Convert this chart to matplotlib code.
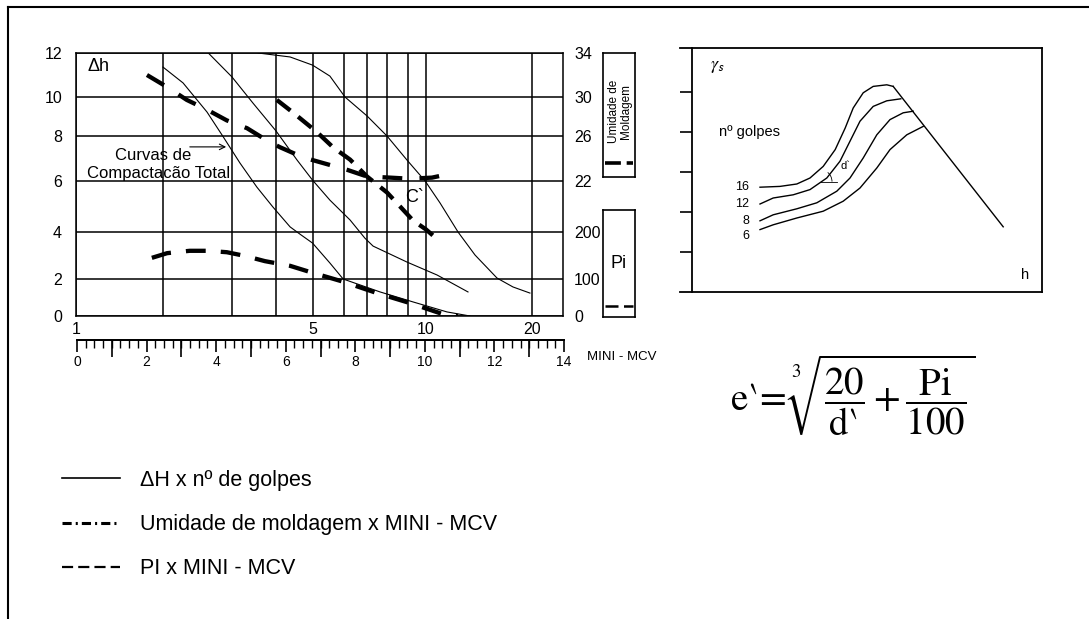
import numpy as np
import matplotlib
matplotlib.use("Agg")
import matplotlib.pyplot as plt
from matplotlib.lines import Line2D
from matplotlib.patches import Arc

plt.rcParams['font.family'] = ['Liberation Sans', 'DejaVu Sans']
plt.rcParams['mathtext.fontset'] = 'stix'

# ---------------------------------------------------------------------------
# Ruling of the printed nomogram (spacing of the drawn grid lines)
golpes_ruling = [1, 2, 3, 4, 5, 6, 7, 8, 9, 10, 20, 24.5]
golpes_ruling_pos = [0, 87, 156, 200, 236.5, 268, 291, 311, 332, 350, 456, 487]
dh_ruling = [0, 2, 4, 6, 8, 10, 12]
dh_ruling_pos = [0, 37, 84, 135, 180, 219, 263]

# Delta h x number of blows (compaction curves)
golpes_c1 = [2.0, 2.25, 2.59, 2.85, 3.16, 3.53, 3.92, 4.36, 4.63, 5.0, 5.53, 5.97, 7.64, 9.27, 11.47, 13.33]
dh_c1 = [11.36, 10.64, 9.23, 7.96, 6.8, 5.76, 4.98, 4.2, 3.91, 3.53, 2.68, 2.0, 1.30, 0.76, 0.22, 0.0]
golpes_c2 = [2.61, 3.0, 3.44, 4.0, 4.55, 5.0, 5.53, 6.25, 6.9, 7.29, 8.95, 10.75, 13.16]
dh_c2 = [12.0, 10.91, 9.69, 8.26, 6.93, 6.04, 5.25, 4.47, 3.74, 3.40, 2.72, 2.17, 1.30]
golpes_c3 = [3.56, 4.36, 5.0, 5.53, 6.04, 7.0, 8.0, 8.95, 9.95, 10.96, 12.33, 13.78, 15.91, 17.66, 19.73]
dh_c3 = [12.0, 11.82, 11.45, 10.95, 10.0, 9.03, 8.0, 6.93, 6.0, 5.14, 4.0, 3.02, 2.04, 1.57, 1.24]

# Moulding moisture x MINI-MCV
umid_a_golpes = [1.76, 2.05, 2.30, 2.59, 2.91, 3.31, 3.77, 4.10, 4.72, 5.31, 6.12, 7.0, 8.14, 9.1, 10.4, 11.93]
umid_a = [32.0, 30.9, 29.7, 28.7, 27.6, 26.8, 25.6, 25.0, 24.1, 23.6, 23.0, 22.4, 22.3, 22.2, 22.3, 22.7]
umid_b_golpes = [4.02, 4.44, 5.13, 5.63, 6.25, 7.0, 8.0, 8.61, 9.27, 10.0, 10.75]
umid_b = [29.7, 28.4, 26.4, 25.0, 23.9, 22.4, 21.1, 20.0, 18.9, 18.2, 17.4]

# Pi x MINI-MCV
pi_golpes = [1.83, 2.05, 2.34, 2.59, 2.91, 3.27, 3.72, 4.36, 4.92, 6.0, 7.48, 9.1, 11.17, 12.33]
pi_vals = [145, 155, 160, 160, 157, 149, 138, 128, 115, 92, 62, 35, 5, 0]

# Axis ticks
golpes_labels = [1, 5, 10, 20]
golpes_grid = [2, 3, 4, 6, 7, 8, 9]
dh_ticks = [0, 2, 4, 6, 8, 10, 12]
umid_ticks = [22, 26, 30, 34]
pi_ticks = [0, 100, 200]
mcv_labels = [0, 2, 4, 6, 8, 10, 12, 14]

# Compaction curves: dry density x moisture (schematic panel)
blows = ['16', '12', '8', '6']
curve16_h = [1.70, 2.20, 2.62, 2.95, 3.28, 3.58, 3.83, 4.03, 4.28, 4.53, 4.87, 5.03]
curve16_g = [2.62, 2.64, 2.70, 2.85, 3.14, 3.56, 4.10, 4.60, 4.98, 5.14, 5.18, 5.14]
curve12_h = [1.70, 2.03, 2.53, 2.95, 3.37, 3.70, 3.95, 4.20, 4.53, 4.87, 5.22]
curve12_g = [2.20, 2.35, 2.43, 2.56, 2.85, 3.27, 3.77, 4.27, 4.64, 4.78, 4.83]
curve8_h = [1.70, 2.03, 2.62, 3.12, 3.62, 3.95, 4.28, 4.62, 4.95, 5.28, 5.53]
curve8_g = [1.78, 1.93, 2.08, 2.23, 2.52, 2.85, 3.35, 3.93, 4.31, 4.48, 4.52]
curve6_h = [1.70, 2.03, 2.62, 3.28, 3.78, 4.20, 4.62, 4.95, 5.37, 5.78]
curve6_g = [1.56, 1.68, 1.85, 2.02, 2.27, 2.60, 3.10, 3.56, 3.93, 4.14]
saturation_h = [5.03, 7.78]
saturation_g = [5.14, 1.63]


# ---------------------------------------------------------------------------
def golpes_fwd(v):
    v = np.clip(np.asarray(v, float), 1e-3, None)
    return np.interp(np.log10(v), np.log10(golpes_ruling), golpes_ruling_pos)


def golpes_inv(p):
    return 10 ** np.interp(np.asarray(p, float), golpes_ruling_pos, np.log10(golpes_ruling))


def dh_fwd(v):
    return np.interp(np.asarray(v, float), dh_ruling, dh_ruling_pos)


def dh_inv(p):
    return np.interp(np.asarray(p, float), dh_ruling_pos, dh_ruling)


def umid_fwd(u):
    return dh_fwd((np.asarray(u, float) - 10.0) / 2.0)


def umid_inv(p):
    return 10.0 + 2.0 * dh_inv(p)


def pi_fwd(v):
    return dh_fwd(np.asarray(v, float) / 50.0)


def pi_inv(p):
    return 50.0 * dh_inv(p)


W, H = 1089, 619
fig = plt.figure(figsize=(W / 100, H / 100), dpi=100)


def fx(px):
    return px / W


def fy(py):
    return 1 - py / H


LW_GRID = 1.1
TICK_FS = 11.5

# ---------------- main nomogram ----------------
ax = fig.add_axes([fx(76), fy(316), fx(563) - fx(76), fy(53) - fy(316)])
ax.set_xscale('function', functions=(golpes_fwd, golpes_inv))
ax.set_yscale('function', functions=(dh_fwd, dh_inv))
ax.set_xlim(1, 24.5)
ax.set_ylim(0, 12)
ax.set_xticks(golpes_labels)
ax.set_xticklabels([str(v) for v in golpes_labels])
ax.set_xticks(golpes_grid, minor=True)
ax.set_xticklabels([], minor=True)
ax.set_yticks(dh_ticks)
ax.set_yticklabels([str(v) for v in dh_ticks])
ax.tick_params(axis='both', which='both', length=0, labelsize=TICK_FS)
ax.tick_params(axis='y', pad=10)
ax.tick_params(axis='x', pad=4)
ax.grid(True, which='both', color='black', lw=LW_GRID)
ax.set_axisbelow(True)
for s in ax.spines.values():
    s.set_linewidth(LW_GRID)

for gx, gy in [(golpes_c1, dh_c1), (golpes_c2, dh_c2), (golpes_c3, dh_c3)]:
    ax.plot(gx, gy, color='black', lw=0.8, zorder=3)

ax.text(0.024, 0.947, 'Δh', transform=ax.transAxes, fontsize=13,
        ha='left', va='center')
ax.text(0.158, 0.612, 'Curvas de', transform=ax.transAxes, fontsize=12,
        ha='center', va='center')
ax.text(0.169, 0.543, 'Compactacão Total', transform=ax.transAxes, fontsize=12,
        ha='center', va='center')
ax.annotate('', xy=(0.314, 0.643), xytext=(0.228, 0.643),
            xycoords='axes fraction', textcoords='axes fraction',
            arrowprops=dict(arrowstyle='->', color='black', lw=0.8))
ax.text(0.696, 0.452, 'C`', transform=ax.transAxes, fontsize=13,
        ha='center', va='center')

# moisture scale (upper right)
ax_u = ax.twinx()
ax_u.set_yscale('function', functions=(umid_fwd, umid_inv))
ax_u.set_ylim(10, 34)
ax_u.set_yticks(umid_ticks)
ax_u.set_yticklabels([str(v) for v in umid_ticks])
ax_u.tick_params(axis='y', length=0, pad=8, labelsize=TICK_FS)
for s in ax_u.spines.values():
    s.set_visible(False)
ax_u.plot(umid_a_golpes, umid_a, color='black', lw=3.1, dashes=(4.6, 4.0),
          solid_capstyle='butt', dash_capstyle='butt')
ax_u.plot(umid_b_golpes, umid_b, color='black', lw=3.1, dashes=(4.0, 2.3),
          solid_capstyle='butt', dash_capstyle='butt')

# plasticity index scale (lower right)
ax_p = ax.twinx()
ax_p.set_yscale('function', functions=(pi_fwd, pi_inv))
ax_p.set_ylim(0, 600)
ax_p.set_yticks(pi_ticks)
ax_p.set_yticklabels([str(v) for v in pi_ticks])
ax_p.tick_params(axis='y', length=0, pad=8, labelsize=TICK_FS)
for s in ax_p.spines.values():
    s.set_visible(False)
ax_p.plot(pi_golpes, pi_vals, color='black', lw=3.1, dashes=(4.6, 3.5),
          dash_capstyle='butt')

# ---------------- MINI-MCV ruler ----------------
ax_r = fig.add_axes([fx(77), fy(340), fx(564) - fx(77), 0.001])
ax_r.set_xlim(0, 14)
ax_r.set_yticks([])
for side in ['left', 'right', 'top']:
    ax_r.spines[side].set_visible(False)
ax_r.spines['bottom'].set_linewidth(1.3)
ax_r.set_xticks(mcv_labels)
ax_r.set_xticklabels([str(v) for v in mcv_labels])
ax_r.set_xticks(np.arange(0, 14.01, 0.25), minor=True)
ax_r.tick_params(axis='x', which='major', length=8.6, width=1.2, labelsize=10, pad=2.5)
ax_r.tick_params(axis='x', which='minor', length=5.8, width=1.0)
ax_r.patch.set_visible(False)
sec = ax_r.secondary_xaxis('bottom')
sec.set_xticks([1, 3, 5, 7, 9, 11, 13])
sec.set_xticklabels([])
sec.tick_params(axis='x', length=12, width=1.2)
sec.spines['bottom'].set_linewidth(1.3)
fig.text(fx(587), fy(357), 'MINI - MCV', fontsize=9.5, ha='left', va='center')

# ---------------- scale boxes ----------------
ax_ub = fig.add_axes([fx(603), fy(177), fx(635) - fx(603), fy(53) - fy(177)])
ax_ub.set_xticks([]); ax_ub.set_yticks([])
ax_ub.set_xlim(0, 1); ax_ub.set_ylim(0, 1)
for s in ax_ub.spines.values():
    s.set_linewidth(1.2)
ax_ub.text(0.52, 0.53, 'Umidade de\nMoldagem', rotation=90, fontsize=8.5,
           ha='center', va='center', linespacing=1.0)
ax_ub.plot([0.06, 0.94], [0.113, 0.113], color='black', lw=2.6, dashes=(4.4, 1.6),
           dash_capstyle='butt')

ax_pb = fig.add_axes([fx(603), fy(317), fx(635) - fx(603), fy(210) - fy(317)])
ax_pb.set_xticks([]); ax_pb.set_yticks([])
ax_pb.set_xlim(0, 1); ax_pb.set_ylim(0, 1)
for s in ax_pb.spines.values():
    s.set_linewidth(1.2)
ax_pb.text(0.5, 0.5, 'Pi', fontsize=13, ha='center', va='center')
ax_pb.plot([0.06, 0.94], [0.106, 0.106], color='black', lw=1.8, dashes=(5.2, 2.2),
           dash_capstyle='butt')

# ---------------- compaction panel ----------------
ax_s = fig.add_axes([fx(692), fy(292), fx(1042) - fx(692), fy(48) - fy(292)])
ax_s.set_xlim(0, 8.75)
ax_s.set_ylim(0, 6.1)
ax_s.set_xticks([])
ax_s.set_yticks([1, 2, 3, 4, 5])
ax_s.set_yticklabels([])
ax_s.tick_params(axis='y', direction='out', length=8.6, width=1.2)
for s in ax_s.spines.values():
    s.set_linewidth(1.3)
ax_s.spines['top'].set_bounds(-0.3, 8.75)
ax_s.spines['bottom'].set_bounds(-0.3, 8.75)

for ch, cg in [(curve16_h, curve16_g), (curve12_h, curve12_g),
               (curve8_h, curve8_g), (curve6_h, curve6_g)]:
    ax_s.plot(ch, cg, color='black', lw=1.0, solid_joinstyle='round')
ax_s.plot(saturation_h, saturation_g, color='black', lw=1.0)

for lab, g0 in zip(blows, [curve16_g[0], curve12_g[0], curve8_g[0], curve6_g[0] - 0.15]):
    ax_s.text(1.43, g0, lab, fontsize=9, ha='right', va='center')
ax_s.text(0.45, 5.63, r'$\gamma_{\mathsf{s}}$', fontsize=13, ha='left', va='center')
ax_s.text(0.68, 4.0, 'nº golpes', fontsize=10.5, ha='left', va='center')
ax_s.text(8.33, 0.43, 'h', fontsize=10.5, ha='center', va='center')
ax_s.text(3.83, 3.14, 'd`', fontsize=8, ha='center', va='center')
ax_s.plot([3.2, 3.62], [2.76, 2.76], color='black', lw=0.6)
ax_s.add_patch(Arc((3.2, 2.76), 0.6, 0.6, theta1=0, theta2=50, color='black', lw=0.6))

# ---------------- formula ----------------
fig.text(fx(853), fy(395),
         '$\\mathrm{e}\u2035\\!=\\sqrt[3]{\\dfrac{20}{\\mathrm{d}\u2035}+\\dfrac{\\mathrm{Pi}}{100}}$',
         fontsize=28, ha='center', va='center')

# ---------------- legend ----------------
handles = [
    Line2D([], [], color='black', lw=1.2),
    Line2D([], [], color='black', lw=2.2, dashes=(3.0, 1.33, 0.67, 1.33)),
    Line2D([], [], color='black', lw=1.6, dashes=(5.0, 2.3)),
]
labels = ['ΔH x nº de golpes', 'Umidade de moldagem x MINI - MCV', 'PI x MINI - MCV']
fig.legend(handles, labels, loc='upper left', bbox_to_anchor=(fx(62), fy(470)),
           frameon=False, fontsize=15.5, handlelength=2.7, handletextpad=0.93,
           labelspacing=1.08, borderpad=0, borderaxespad=0)

# ---------------- sheet frame ----------------
fig.add_artist(Line2D([fx(7.5), fx(7.5)], [0, fy(7)], color='black', lw=1.5,
                      transform=fig.transFigure))
fig.add_artist(Line2D([fx(7.5), 1], [fy(7), fy(7)], color='black', lw=1.5,
                      transform=fig.transFigure))

fig.savefig('out.png', dpi=100)
